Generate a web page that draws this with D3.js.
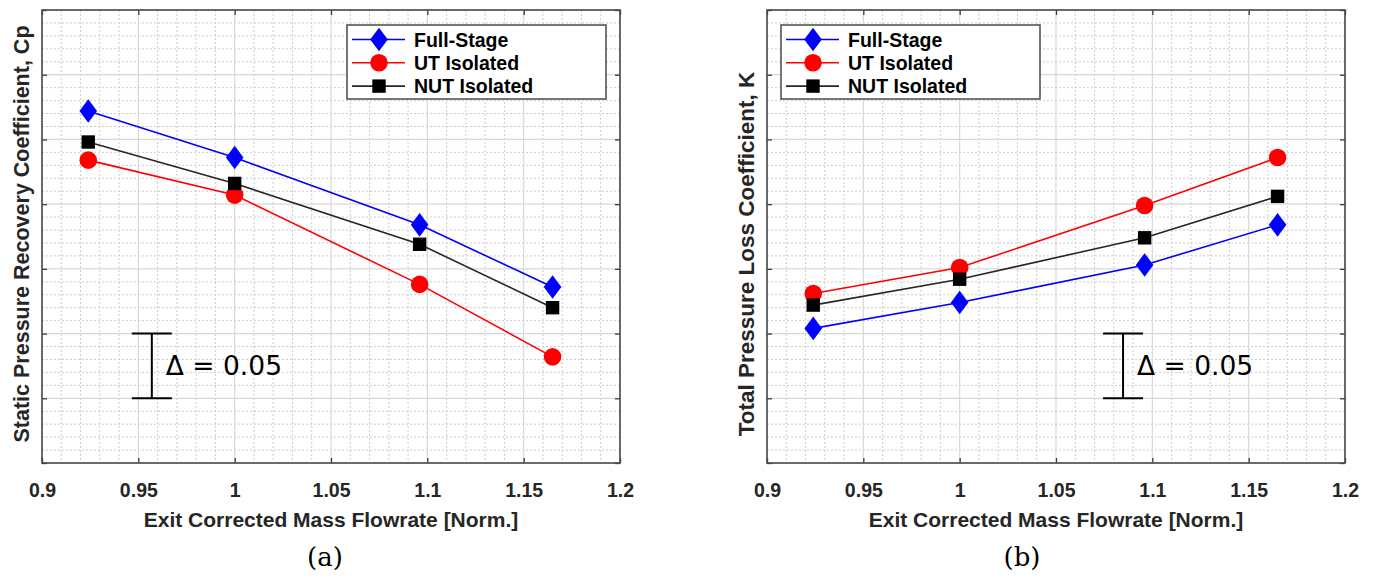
<!DOCTYPE html>
<html>
<head>
<meta charset="utf-8">
<script src="https://cdn.jsdelivr.net/npm/d3@7"></script>
<style>
  html, body { margin: 0; padding: 0; background: #fff; }
  svg { display: block; }
</style>
</head>
<body>
<svg id="fig" width="1377" height="578"></svg>
<script>
// Normalised exit corrected mass flowrate at the four operating points
const flowrate = [0.924, 1.0, 1.096, 1.165];

// Panel (a): static pressure recovery coefficient, Cp
const cpFullStage = [0.572, 0.536, 0.484, 0.436];
const cpUTIsolated = [0.534, 0.507, 0.438, 0.382];
const cpNUTIsolated = [0.548, 0.516, 0.469, 0.420];

// Panel (b): total pressure loss coefficient, K
const kFullStage = [0.104, 0.124, 0.153, 0.184];
const kUTIsolated = [0.131, 0.151, 0.199, 0.236];
const kNUTIsolated = [0.122, 0.142, 0.174, 0.206];

const seriesNames = ["Full-Stage", "UT Isolated", "NUT Isolated"];
const xTickValues = [0.9, 0.95, 1.0, 1.05, 1.1, 1.15, 1.2];
const xTickLabels = ["0.9", "0.95", "1", "1.05", "1.1", "1.15", "1.2"];
const deltaLabel = "\u0394 = 0.05";

const seriesStyle = [
  { color: "#0000ff", marker: "diamond" },
  { color: "#ff0000", marker: "circle" },
  { color: "#000000", marker: "square" }
];

const SANS = "'Liberation Sans', Arial, sans-serif";
const svg = d3.select("#fig");

function drawMarker(g, kind, x, y, color) {
  if (kind === "diamond") {
    g.append("path")
      .attr("d", `M${x},${y - 11.8}L${x + 8.8},${y}L${x},${y + 11.8}L${x - 8.8},${y}Z`)
      .attr("fill", color);
  } else if (kind === "circle") {
    g.append("circle").attr("cx", x).attr("cy", y).attr("r", 8.8).attr("fill", color);
  } else {
    g.append("rect").attr("x", x - 6.7).attr("y", y - 6.7)
      .attr("width", 13.4).attr("height", 13.4).attr("fill", color);
  }
}

function drawPanel(cfg) {
  const g = svg.append("g");
  const x = d3.scaleLinear().domain([0.9, 1.2]).range([cfg.left, cfg.right]);
  const y = d3.scaleLinear().domain(cfg.yDomain).range([cfg.bottom, cfg.top]);

  // Minor grid (dotted)
  const xMinor = d3.range(0, 31).map(i => 0.9 + i * 0.01).filter((v, i) => i % 5 !== 0);
  const yMinor = d3.range(0, 36).map(i => cfg.yDomain[0] + i * 0.01).filter((v, i) => i % 5 !== 0);
  g.selectAll(".xminor").data(xMinor).join("line")
    .attr("x1", d => x(d)).attr("x2", d => x(d))
    .attr("y1", cfg.top).attr("y2", cfg.bottom)
    .attr("stroke", "#cccccc").attr("stroke-width", 1).attr("stroke-dasharray", "2,2");
  g.selectAll(".yminor").data(yMinor).join("line")
    .attr("x1", cfg.left).attr("x2", cfg.right)
    .attr("y1", d => y(d)).attr("y2", d => y(d))
    .attr("stroke", "#cccccc").attr("stroke-width", 1).attr("stroke-dasharray", "2,2");

  // Major grid
  const yMajor = d3.range(0, 8).map(i => cfg.yDomain[0] + i * 0.05);
  g.selectAll(".xmajor").data(xTickValues).join("line")
    .attr("x1", d => x(d)).attr("x2", d => x(d))
    .attr("y1", cfg.top).attr("y2", cfg.bottom)
    .attr("stroke", "#d8d8d8").attr("stroke-width", 1.2);
  g.selectAll(".ymajor").data(yMajor).join("line")
    .attr("x1", cfg.left).attr("x2", cfg.right)
    .attr("y1", d => y(d)).attr("y2", d => y(d))
    .attr("stroke", "#d8d8d8").attr("stroke-width", 1.2);

  // Axes with inward ticks on all four sides
  const bottomAxis = d3.axisBottom(x).tickValues(xTickValues)
    .tickFormat((d, i) => xTickLabels[i]).tickSizeInner(-5).tickSizeOuter(0).tickPadding(18);
  const topAxis = d3.axisTop(x).tickValues(xTickValues).tickFormat("").tickSizeInner(-5).tickSizeOuter(0);
  const leftAxis = d3.axisLeft(y).tickValues(yMajor).tickFormat("").tickSizeInner(-5).tickSizeOuter(0);
  const rightAxis = d3.axisRight(y).tickValues(yMajor).tickFormat("").tickSizeInner(-5).tickSizeOuter(0);

  const axStyle = sel => {
    sel.select(".domain").remove();
    sel.selectAll(".tick line").attr("stroke", "#3a3a3a").attr("stroke-width", 1.3);
  };
  g.append("g").attr("transform", `translate(0,${cfg.bottom})`).call(bottomAxis).call(axStyle)
    .selectAll("text")
    .attr("dy", null).attr("y", 34)
    .attr("font-family", SANS)
    .attr("font-size", 19.5).attr("font-weight", "bold").attr("fill", "#262626");
  g.append("g").attr("transform", `translate(0,${cfg.top})`).call(topAxis).call(axStyle);
  g.append("g").attr("transform", `translate(${cfg.left},0)`).call(leftAxis).call(axStyle);
  g.append("g").attr("transform", `translate(${cfg.right},0)`).call(rightAxis).call(axStyle);

  // Plot box
  g.append("rect")
    .attr("x", cfg.left).attr("y", cfg.top)
    .attr("width", cfg.right - cfg.left).attr("height", cfg.bottom - cfg.top)
    .attr("fill", "none").attr("stroke", "#4a4a4a").attr("stroke-width", 1.6);

  // Series
  const line = d3.line().x(d => x(d[0])).y(d => y(d[1]));
  cfg.series.forEach((vals, si) => {
    const st = seriesStyle[si];
    const pts = flowrate.map((f, i) => [f, vals[i]]);
    const sg = g.append("g");
    sg.append("path").attr("d", line(pts)).attr("fill", "none")
      .attr("stroke", st.color === "#000000" ? "#262626" : st.color).attr("stroke-width", 1.6);
    pts.forEach(p => drawMarker(sg, st.marker, x(p[0]), y(p[1]), st.color));
  });

  // Delta scale bar
  const bx = x(cfg.barX);
  const by0 = y(cfg.barY[0]), by1 = y(cfg.barY[1]);
  const bar = g.append("g").attr("stroke", "#000").attr("stroke-width", 2);
  bar.append("line").attr("x1", bx).attr("x2", bx).attr("y1", by0).attr("y2", by1);
  bar.append("line").attr("x1", bx - 20).attr("x2", bx + 20).attr("y1", by0).attr("y2", by0);
  bar.append("line").attr("x1", bx - 20).attr("x2", bx + 20).attr("y1", by1).attr("y2", by1);
  g.append("text").attr("x", bx + 14).attr("y", (by0 + by1) / 2 + 9.5)
    .attr("font-family", "'DejaVu Sans', sans-serif")
    .attr("font-size", 26.5).attr("fill", "#000").text(deltaLabel);

  // Legend
  const lg = g.append("g");
  lg.append("rect").attr("x", cfg.legX).attr("y", 25).attr("width", 259).attr("height", 74)
    .attr("fill", "#fff").attr("stroke", "#4a4a4a").attr("stroke-width", 1.5);
  seriesNames.forEach((name, i) => {
    const st = seriesStyle[i];
    const ry = 39.5 + i * 23.3;
    lg.append("line").attr("x1", cfg.legX + 5).attr("x2", cfg.legX + 58)
      .attr("y1", ry).attr("y2", ry)
      .attr("stroke", st.color === "#000000" ? "#262626" : st.color).attr("stroke-width", 1.6);
    drawMarker(lg, st.marker, cfg.legX + 32, ry, st.color);
    lg.append("text").attr("x", cfg.legX + 67).attr("y", ry + 7)
      .attr("font-family", SANS)
      .attr("font-size", 19.5).attr("font-weight", "bold").attr("fill", "#000").text(name);
  });

  // Axis titles
  g.append("text").attr("x", (cfg.left + cfg.right) / 2).attr("y", 527)
    .attr("text-anchor", "middle")
    .attr("font-family", SANS)
    .attr("font-size", 21).attr("font-weight", "bold").attr("fill", "#262626")
    .text("Exit Corrected Mass Flowrate [Norm.]");
  g.append("text")
    .attr("transform", `translate(${cfg.yLabelX},${cfg.yLabelY}) rotate(-90)`)
    .attr("text-anchor", "middle")
    .attr("font-family", SANS)
    .attr("font-size", cfg.yLabelSize).attr("font-weight", "bold").attr("fill", "#262626")
    .text(cfg.yLabel);

  // Panel tag
  g.append("text").attr("x", cfg.tagX).attr("y", 566)
    .attr("text-anchor", "middle")
    .attr("font-family", "'DejaVu Serif', 'Liberation Serif', serif")
    .attr("font-size", 26).attr("fill", "#000").text(cfg.tag);
}

drawPanel({
  left: 42, right: 620, top: 10, bottom: 463,
  yDomain: [0.30, 0.65],
  series: [cpFullStage, cpUTIsolated, cpNUTIsolated],
  barX: 0.957, barY: [0.35, 0.40],
  legX: 347,
  yLabel: "Static Pressure Recovery Coefficient, Cp",
  yLabelX: 29, yLabelY: 234, yLabelSize: 21.5,
  tag: "(a)", tagX: 325
});

drawPanel({
  left: 767, right: 1345, top: 10, bottom: 463,
  yDomain: [0.0, 0.35],
  series: [kFullStage, kUTIsolated, kNUTIsolated],
  barX: 1.0848, barY: [0.05, 0.10],
  legX: 781,
  yLabel: "Total Pressure Loss Coefficient, K",
  yLabelX: 754, yLabelY: 254, yLabelSize: 22.5,
  tag: "(b)", tagX: 1022
});
</script>
</body>
</html>
